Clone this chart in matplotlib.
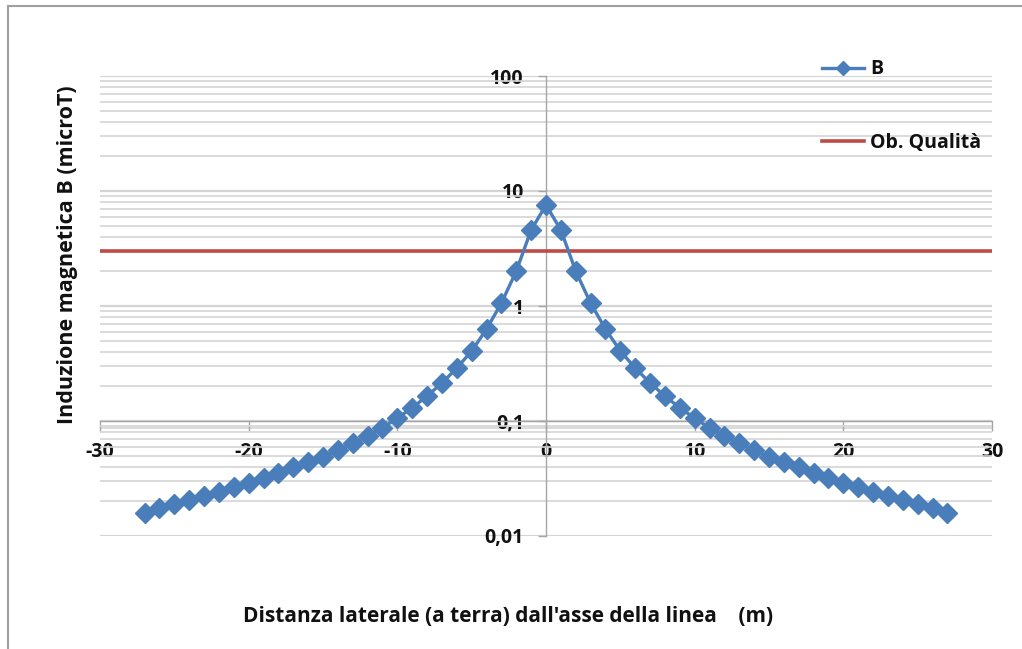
import numpy as np
import matplotlib.pyplot as plt
from matplotlib.lines import Line2D
from matplotlib.ticker import FixedLocator, LogLocator, NullFormatter

# distanza laterale (m) e induzione magnetica B (microT)
distanza = list(range(-27, 28))
b_destra = [7.55, 4.58, 2.01, 1.06, 0.63, 0.406, 0.289, 0.214, 0.165, 0.130,
            0.106, 0.087, 0.074, 0.064, 0.056, 0.0487, 0.044, 0.0398, 0.0353,
            0.0319, 0.0289, 0.0267, 0.0241, 0.0223, 0.0206, 0.019, 0.0175, 0.0158]
b_valori = b_destra[:0:-1] + b_destra
obiettivo_qualita = 3.0

x_ticks = [-30, -20, -10, 0, 10, 20, 30]
y_ticks = [0.01, 0.1, 1, 10, 100]
y_tick_labels = ["0,01", "0,1", "1", "10", "100"]

plt.rcParams['font.family'] = ['Open Sans', 'DejaVu Sans']
plt.rcParams['font.weight'] = 'bold'

blue = '#4A7EBB'
red = '#BE4B48'
grid_col = '#D4D4D4'
text_col = '#111111'

W, H = 1022, 649
fig = plt.figure(figsize=(W / 100, H / 100), dpi=100)
ax = fig.add_axes([100 / W, 1 - 536 / H, 892 / W, 460 / H])

ax.set_yscale('log')
ax.set_xlim(-30, 30)
ax.set_ylim(0.01, 100)

# griglia orizzontale (maggiore e minore)
ax.yaxis.set_major_locator(FixedLocator(y_ticks))
ax.yaxis.set_minor_locator(LogLocator(base=10, subs=np.arange(2, 10)))
ax.yaxis.set_minor_formatter(NullFormatter())
ax.grid(True, which='major', axis='y', color=grid_col, linewidth=1.6)
ax.grid(True, which='minor', axis='y', color=grid_col, linewidth=1.2)
ax.set_axisbelow(True)

# assi incrociati a x=0 e y=0.1
for s in ['top', 'right']:
    ax.spines[s].set_visible(False)
ax.spines['left'].set_position(('data', 0))
ax.spines['bottom'].set_position(('data', 0.1))
ax.spines['left'].set_color('#A6A6A6')
ax.spines['bottom'].set_color('#A6A6A6')
ax.spines['left'].set_linewidth(1.0)
ax.spines['bottom'].set_linewidth(1.0)

ax.set_xticks(x_ticks)
ax.set_xticklabels([str(t) for t in x_ticks])
ax.set_yticks(y_ticks)
ax.set_yticklabels(y_tick_labels)
ax.tick_params(axis='x', which='major', direction='out', length=7, width=1,
               color='#A6A6A6', labelsize=14, labelcolor=text_col, pad=8)
ax.tick_params(axis='y', which='major', direction='out', length=6, width=1,
               color='#A6A6A6', labelsize=14, labelcolor=text_col, pad=10)
ax.tick_params(axis='y', which='minor', length=0)
for lbl in ax.get_xticklabels() + ax.get_yticklabels():
    lbl.set_fontweight('bold')

# seconda linea sotto l'asse x (come nell'originale)
ax.axhline(0.1 * 10 ** (-7 / 115), color=grid_col, linewidth=1.2, zorder=0)

# serie
ax.axhline(obiettivo_qualita, color=red, linewidth=2.6, zorder=3)
ax.plot(distanza, b_valori, color=blue, linewidth=2.4, marker='D',
        markersize=10, markerfacecolor=blue, markeredgecolor=blue, zorder=4,
        clip_on=False)

# titoli degli assi
fig.text(68 / W, 1 - 255 / H, 'Induzione magnetica B (microT)', rotation=90,
         ha='center', va='center', fontsize=15.5, fontweight='bold', color=text_col)
fig.text(508 / W, 1 - 617 / H, "Distanza laterale (a terra) dall'asse della linea    (m)",
         ha='center', va='center', fontsize=15, fontweight='bold', color=text_col)

# legenda
handles = [Line2D([], [], color=blue, linewidth=2.4, marker='D', markersize=7),
           Line2D([], [], color=red, linewidth=2.6)]
fig.legend(handles, ['B', 'Ob. Qualità'], loc='upper left',
           bbox_to_anchor=(804 / W, 1 - 42 / H), frameon=False,
           prop={'size': 14, 'weight': 'bold'}, labelspacing=2.75,
           handlelength=2.2, handletextpad=0.3, labelcolor=text_col)

# cornice esterna
fig.add_artist(Line2D([8 / W, 8 / W], [0, 1 - 6 / H], color='#A0A0A0', linewidth=1.5))
fig.add_artist(Line2D([8 / W, 1], [1 - 6 / H, 1 - 6 / H], color='#A0A0A0', linewidth=1.5))

fig.savefig('out.png', dpi=100)
